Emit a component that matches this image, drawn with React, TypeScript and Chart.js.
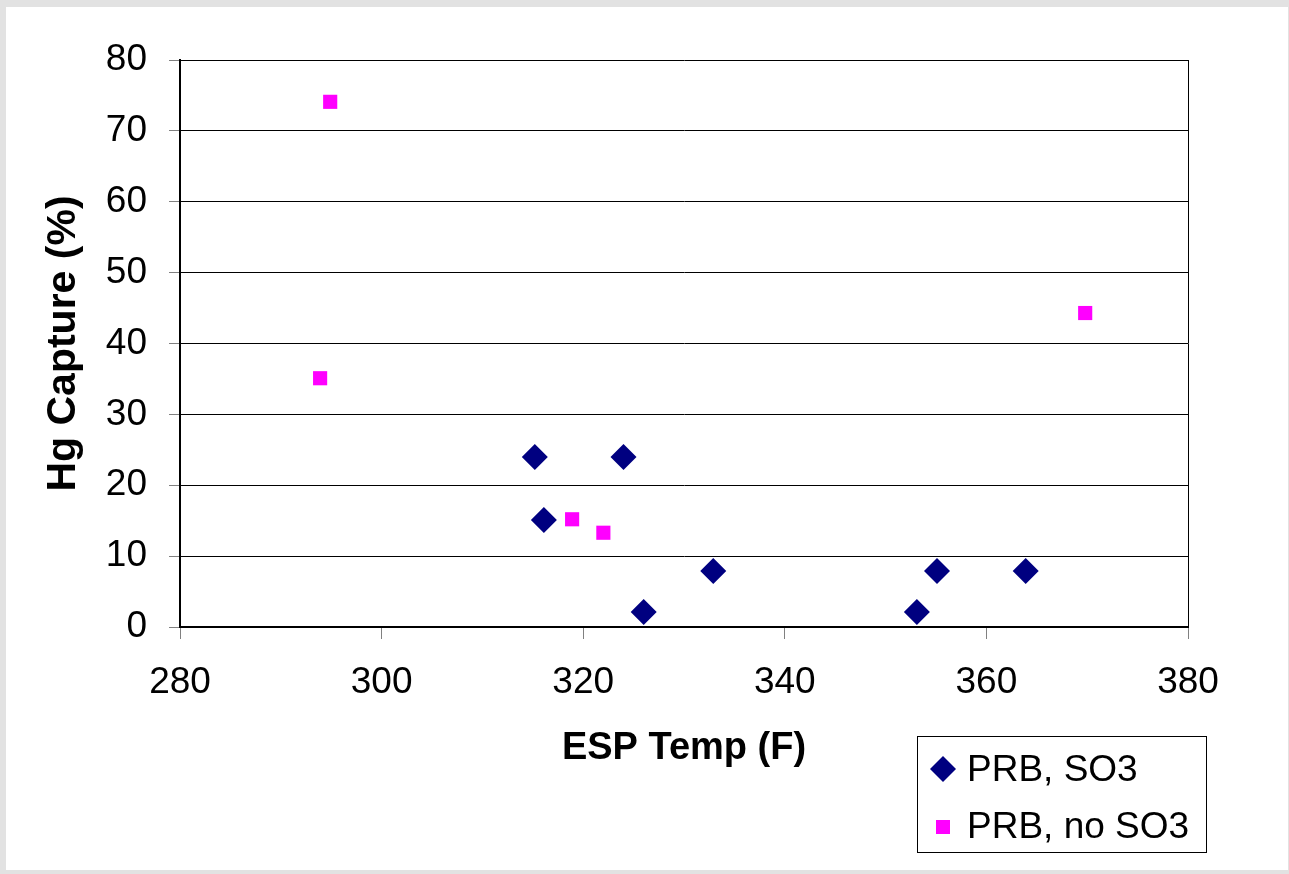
import React, { useEffect, useRef } from 'react';
import { Chart, registerables } from 'chart.js';

Chart.register(...registerables);

// ---- Data ----
const seriesNames = ['PRB, SO3', 'PRB, no SO3'];
const so3Temp = [315.2, 316.1, 324.0, 326.0, 332.9, 353.1, 355.1, 363.9];
const so3Capture = [24.0, 15.1, 24.0, 2.1, 7.9, 2.1, 7.9, 7.9];
const noSo3Temp = [294.9, 293.9, 318.9, 322.0, 369.8];
const noSo3Capture = [74.1, 35.1, 15.2, 13.3, 44.3];
const xTickValues = [280, 300, 320, 340, 360, 380];
const yTickValues = [0, 10, 20, 30, 40, 50, 60, 70, 80];
const xTitle = 'ESP Temp (F)';
const yTitle = 'Hg Capture (%)';

const NAVY = '#000080';
const MAGENTA = '#FF00FF';
const FONT = '"Liberation Sans", Arial, Helvetica, sans-serif';

const W = 1289;
const H = 874;

const framePlugin = {
  id: 'frame',
  beforeDraw(chart: any) {
    const ctx = chart.ctx;
    ctx.save();
    ctx.fillStyle = '#e2e2e2';
    ctx.fillRect(0, 0, W, H);
    ctx.fillStyle = '#ffffff';
    ctx.fillRect(6, 7, 1282 - 0, 863);
    ctx.restore();
  },
  afterDraw(chart: any) {
    const ctx = chart.ctx;
    const a = chart.chartArea;
    ctx.save();
    // right border of the plot area
    ctx.strokeStyle = '#000000';
    ctx.lineWidth = 1;
    ctx.beginPath();
    ctx.moveTo(Math.round(a.right) + 0.5, a.top);
    ctx.lineTo(Math.round(a.right) + 0.5, a.bottom);
    ctx.stroke();

    // legend box
    const lx = 917, ly = 736, lw = 289, lh = 116;
    ctx.fillStyle = '#ffffff';
    ctx.fillRect(lx, ly, lw, lh);
    ctx.strokeStyle = '#000000';
    ctx.lineWidth = 1;
    ctx.strokeRect(lx + 0.5, ly + 0.5, lw, lh);

    // entry 1: diamond
    const mx = 943;
    const y1 = 769;
    ctx.fillStyle = NAVY;
    ctx.beginPath();
    ctx.moveTo(mx - 13, y1);
    ctx.lineTo(mx, y1 - 13);
    ctx.lineTo(mx + 13, y1);
    ctx.lineTo(mx, y1 + 13);
    ctx.closePath();
    ctx.fill();

    // entry 2: square
    const y2 = 827;
    ctx.fillStyle = MAGENTA;
    ctx.fillRect(mx - 7, y2 - 7, 14, 14);

    ctx.fillStyle = '#000000';
    ctx.font = `37px ${FONT}`;
    ctx.textAlign = 'left';
    ctx.textBaseline = 'alphabetic';
    ctx.fillText(seriesNames[0], 967, 781);
    ctx.fillText(seriesNames[1], 967, 838);
    ctx.restore();
  },
};

export default function App() {
  const canvasRef = useRef<HTMLCanvasElement | null>(null);

  useEffect(() => {
    const canvas = canvasRef.current;
    if (!canvas) return;
    const chart = new Chart(canvas, {
      type: 'scatter',
      data: {
        datasets: [
          {
            label: seriesNames[0],
            data: so3Temp.map((x, i) => ({ x, y: so3Capture[i] })),
            pointStyle: 'rectRot',
            pointRadius: 13,
            pointHoverRadius: 13,
            backgroundColor: NAVY,
            borderColor: NAVY,
            borderWidth: 0,
          },
          {
            label: seriesNames[1],
            data: noSo3Temp.map((x, i) => ({ x, y: noSo3Capture[i] })),
            pointStyle: 'rect',
            pointRadius: 10,
            pointHoverRadius: 10,
            backgroundColor: MAGENTA,
            borderColor: MAGENTA,
            borderWidth: 0,
          },
        ],
      },
      options: {
        responsive: false,
        animation: false,
        events: [],
        layout: { padding: { left: 0, top: 60, right: W - 1188, bottom: 0 } },
        plugins: {
          legend: { display: false },
          tooltip: { enabled: false },
        },
        scales: {
          x: {
            type: 'linear',
            min: xTickValues[0],
            max: xTickValues[xTickValues.length - 1],
            afterBuildTicks: (scale: any) => {
              scale.ticks = xTickValues.map((v) => ({ value: v }));
            },
            afterFit: (scale: any) => {
              scale.height = H - 627;
            },
            ticks: {
              color: '#000000',
              font: { family: FONT, size: 37 },
              padding: 22,
              maxRotation: 0,
              autoSkip: false,
            },
            grid: {
              drawOnChartArea: false,
              drawTicks: true,
              tickLength: 12,
              tickColor: '#808080',
              tickWidth: 1,
            },
            border: { display: true, color: '#000000', width: 2 },
            title: {
              display: true,
              text: xTitle,
              color: '#000000',
              font: { family: FONT, size: 38, weight: 'bold' },
              padding: { top: 0, bottom: 103 },
            },
          },
          y: {
            type: 'linear',
            min: yTickValues[0],
            max: yTickValues[yTickValues.length - 1],
            afterBuildTicks: (scale: any) => {
              scale.ticks = yTickValues.map((v) => ({ value: v }));
            },
            afterFit: (scale: any) => {
              scale.width = 180;
            },
            ticks: {
              color: '#000000',
              font: { family: FONT, size: 37 },
              padding: 22,
              autoSkip: false,
            },
            grid: {
              color: '#000000',
              lineWidth: 1,
              drawTicks: true,
              tickLength: 11,
              tickColor: '#808080',
              tickWidth: 1,
            },
            border: { display: true, color: '#000000', width: 2 },
            title: {
              display: true,
              text: yTitle,
              color: '#000000',
              font: { family: FONT, size: 41, weight: 'bold' },
              padding: { top: 39, bottom: 0 },
            },
          },
        },
      },
      plugins: [framePlugin],
    });
    return () => chart.destroy();
  }, []);

  return (
    <div style={{ position: 'fixed', left: 0, top: 0, width: W, height: H, background: '#ffffff' }}>
      <canvas ref={canvasRef} width={W} height={H} style={{ display: 'block' }} />
    </div>
  );
}
